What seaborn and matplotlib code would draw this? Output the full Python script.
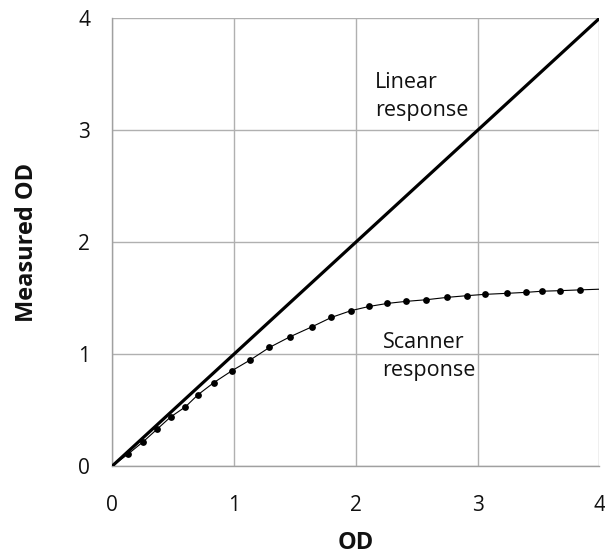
import matplotlib
matplotlib.use("Agg")
import matplotlib.pyplot as plt
import seaborn as sns
import pandas as pd

# Measured scanner response (dots)
od_points = [0.13, 0.255, 0.37, 0.48, 0.60, 0.705, 0.835, 0.985, 1.135, 1.29, 1.46,
             1.64, 1.80, 1.96, 2.11, 2.26, 2.41, 2.58, 2.75, 2.91, 3.06, 3.24,
             3.40, 3.53, 3.68, 3.84]
measured_points = [0.107, 0.218, 0.331, 0.439, 0.528, 0.638, 0.746, 0.853, 0.949, 1.059, 1.155,
                   1.244, 1.328, 1.388, 1.426, 1.453, 1.471, 1.486, 1.507, 1.522, 1.534, 1.543,
                   1.552, 1.562, 1.567, 1.574]
# Fitted thin curve endpoints
curve_start = (0.0, 0.0)
curve_end = (4.0, 1.58)
# Linear response
linear_x = [0, 4]
linear_y = [0, 4]

x_ticks = [0, 1, 2, 3, 4]
y_ticks = [0, 1, 2, 3, 4]

sns.set_theme(style="white")
plt.rcParams['font.family'] = ['Open Sans', 'DejaVu Sans']

fig = plt.figure(figsize=(6.05, 5.59), dpi=100)
ax = fig.add_axes([0.1856, 0.1664, 0.8050, 0.8006])

dots = pd.DataFrame({"OD": od_points, "Measured": measured_points})
curve = pd.DataFrame({"OD": [curve_start[0]] + od_points + [curve_end[0]],
                      "Measured": [curve_start[1]] + measured_points + [curve_end[1]]})
lin = pd.DataFrame({"OD": linear_x, "Measured": linear_y})

sns.lineplot(data=lin, x="OD", y="Measured", ax=ax, color="black", linewidth=2.3,
             zorder=3)
sns.lineplot(data=curve, x="OD", y="Measured", ax=ax, color="black", linewidth=0.8,
             zorder=3)
sns.scatterplot(data=dots, x="OD", y="Measured", ax=ax, color="black", s=24,
                edgecolor="black", linewidth=0, zorder=4)

ax.set_xlim(0, 4)
ax.set_ylim(0, 4)
ax.set_xticks(x_ticks)
ax.set_yticks(y_ticks)
ax.set_xticklabels([str(t) for t in x_ticks])
ax.set_yticklabels([str(t) for t in y_ticks])
ax.grid(True, color="#b0b0b0", linewidth=1.0)
ax.set_axisbelow(True)
for s in ["top", "right"]:
    ax.spines[s].set_visible(False)
for s in ["left", "bottom"]:
    ax.spines[s].set_color("#a0a0a0")
    ax.spines[s].set_linewidth(1.0)
ax.tick_params(axis="both", which="both", direction="out", length=6, width=1,
               color="#a0a0a0", labelsize=15, labelcolor="#111111")
ax.tick_params(axis="x", pad=15)
ax.tick_params(axis="y", pad=10)

ax.set_xlabel("OD", fontsize=17, fontweight="bold", labelpad=11, color="#111111")
ax.set_ylabel("Measured OD", fontsize=17, fontweight="bold", labelpad=28, color="#111111")

ax.text(2.157, 3.30, "Linear\nresponse", fontsize=15.5, ha="left", va="center",
        linespacing=1.45, color="#111111")
ax.text(2.22, 0.98, "Scanner\nresponse", fontsize=15.5, ha="left", va="center",
        linespacing=1.45, color="#111111")

fig.savefig("out.png", dpi=100, facecolor="white")
